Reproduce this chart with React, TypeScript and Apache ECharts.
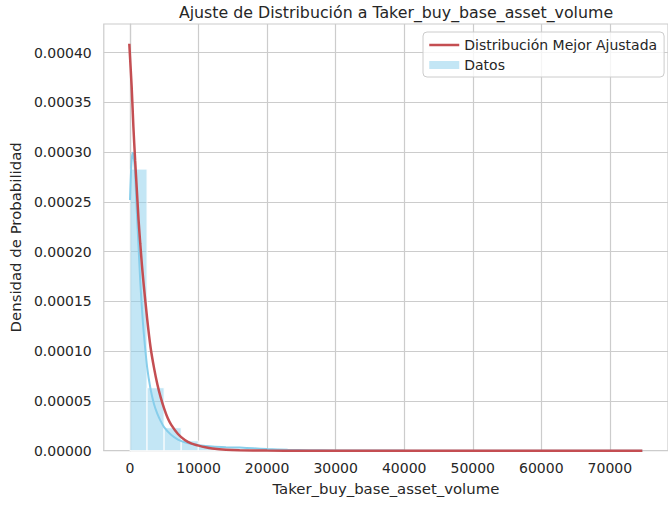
import React, { useEffect, useRef } from "react";
import * as echarts from "echarts";

const TITLE = "Ajuste de Distribución a Taker_buy_base_asset_volume";
const X_LABEL = "Taker_buy_base_asset_volume";
const Y_LABEL = "Densidad de Probabilidad";
const FIT_NAME = "Distribución Mejor Ajustada";
const HIST_NAME = "Datos";

const X_TICKS = [0, 10000, 20000, 30000, 40000, 50000, 60000, 70000];
const Y_TICKS = [0, 0.00005, 0.0001, 0.00015, 0.0002, 0.00025, 0.0003, 0.00035, 0.0004];

// histogram: 30 bins, density values
const BIN_START = 0;
const BIN_WIDTH = 2490;
const HIST_DENSITY = [
  0.000283, 0.0000633, 0.0000231, 0.00001, 0.0000042, 0.0000025, 0.0000018, 0.000001,
  0.0000007, 0.0000004, 0.0000003, 0.0000002, 0.0000002, 0.0000001, 0.0000001, 0.0000001,
  0.00000005, 0.00000005, 0.00000005, 0.00000003, 0.00000003, 0.00000002, 0.00000002,
  0.00000002, 0.00000001, 0.00000001, 0.00000001, 0.00000001, 0.00000001, 0.00000001,
];

// KDE curve (light blue)
const KDE_X = [0, 150, 300, 430, 600, 750, 1000, 1250, 1500, 1750, 2000, 2500, 3000, 3500, 4000, 4500, 5000, 6000, 7000, 8000, 9000, 10000, 12000, 14000, 16000, 18000, 20000, 23000, 26000, 30000, 40000, 50000, 60000, 74740];
const KDE_Y = [0.000252, 0.00028, 0.000296, 0.0002995, 0.000292, 0.000278, 0.00024, 0.000205, 0.00017, 0.000142, 0.000119, 0.000084, 0.000062, 0.000047, 0.000037, 0.0000295, 0.0000235, 0.000016, 0.0000112, 0.0000085, 0.0000068, 0.0000056, 0.0000042, 0.0000035, 0.0000031, 0.0000024, 0.0000016, 0.0000009, 0.0000005, 0.0000003, 0.0000001, 0.00000006, 0.00000003, 0.00000001];

// Best fitted distribution (red)
const FIT_X = [-100, 250, 500, 750, 1000, 1250, 1500, 1750, 2000, 2500, 3000, 3500, 4000, 4500, 5000, 5500, 6000, 7000, 8000, 9000, 10000, 11000, 12000, 14000, 16000, 20000, 25000, 30000, 40000, 50000, 60000, 74740];
const FIT_Y = [0.000409, 0.000365, 0.000325, 0.000292, 0.000262, 0.000232, 0.000208, 0.000186, 0.000167, 0.000133, 0.000104, 0.0000835, 0.0000665, 0.000053, 0.000042, 0.0000328, 0.0000262, 0.0000168, 0.0000108, 0.0000072, 0.0000051, 0.0000034, 0.0000022, 0.0000009, 0.0000004, 0.0000001, 0.00000002, 0, 0, 0, 0, 0];

const TEXT = "#262626";
const GRID = "#cccccc";
const BAR_FILL = "rgba(135,206,235,0.5)";
const KDE_COLOR = "#87ceeb";
const FIT_COLOR = "#c44e52";
const FONT = "DejaVu Sans";

export default function App() {
  const ref = useRef<HTMLDivElement>(null);
  useEffect(() => {
    if (!ref.current) return;
    const chart = echarts.init(ref.current, null, { renderer: "svg" });
    const histData = HIST_DENSITY.map((h, i) => [BIN_START + i * BIN_WIDTH, BIN_START + (i + 1) * BIN_WIDTH, h]);
    const kde = KDE_X.map((x, i) => [x, KDE_Y[i]]);
    const fit = FIT_X.map((x, i) => [x, FIT_Y[i]]);
    chart.setOption({
      animation: false,
      textStyle: { fontFamily: FONT },
      title: {
        text: TITLE,
        left: 396,
        top: 4,
        padding: 0,
        textAlign: "center",
        textStyle: { fontFamily: FONT, fontSize: 15.8, fontWeight: "normal", color: TEXT },
      },
      legend: {
        orient: "vertical",
        left: 423,
        top: 32,
        padding: [6, 7, 5, 5],
        itemGap: 6,
        itemWidth: 30,
        itemHeight: 8,
        backgroundColor: "rgba(255,255,255,0.8)",
        borderColor: GRID,
        borderWidth: 1,
        borderRadius: 4,
        textStyle: { fontFamily: FONT, fontSize: 14, color: TEXT },
        data: [
          { name: FIT_NAME, itemStyle: { opacity: 0 }, lineStyle: { color: FIT_COLOR, width: 2.5 } },
          { name: HIST_NAME, icon: "rect" },
        ],
      },
      grid: {
        left: 101.5,
        top: 24,
        right: -6.3,
        bottom: 54.3,
        show: true,
        borderColor: GRID,
        borderWidth: 1.2,
        backgroundColor: "transparent",
      },
      xAxis: {
        type: "value",
        min: -3820,
        max: 78480,
        name: X_LABEL,
        nameLocation: "middle",
        nameGap: 31,
        nameTextStyle: { fontFamily: FONT, fontSize: 14.9, color: TEXT },
        axisLine: { show: true, lineStyle: { color: GRID, width: 1.2 } },
        axisTick: { show: false, customValues: X_TICKS },
        axisLabel: {
          customValues: X_TICKS,
          margin: 10,
          fontFamily: FONT,
          fontSize: 14,
          color: TEXT,
          formatter: (v: number) => String(Math.round(v)),
        },
        splitLine: { show: true, lineStyle: { color: GRID, width: 1.2 } },
      },
      yAxis: {
        type: "value",
        min: 0,
        max: 0.0004288,
        name: Y_LABEL,
        nameLocation: "middle",
        nameGap: 78,
        nameTextStyle: { fontFamily: FONT, fontSize: 14.9, color: TEXT },
        axisLine: { show: true, lineStyle: { color: GRID, width: 1.2 } },
        axisTick: { show: false, customValues: Y_TICKS },
        axisLabel: {
          customValues: Y_TICKS,
          margin: 12,
          fontFamily: FONT,
          fontSize: 14,
          color: TEXT,
          formatter: (v: number) => v.toFixed(5),
        },
        splitLine: { show: true, lineStyle: { color: GRID, width: 1.2 } },
      },
      series: [
        {
          name: HIST_NAME,
          type: "custom",
          z: 1,
          itemStyle: { color: BAR_FILL },
          encode: { x: [0, 1], y: 2 },
          data: histData,
          renderItem: (params: any, api: any) => {
            const x0 = api.value(0);
            const x1 = api.value(1);
            const h = api.value(2);
            const p0 = api.coord([x0, h]);
            const p1 = api.coord([x1, 0]);
            return {
              type: "rect",
              shape: { x: p0[0], y: p0[1], width: p1[0] - p0[0], height: p1[1] - p0[1] },
              style: { fill: BAR_FILL, stroke: "#ffffff", lineWidth: 1 },
            };
          },
        },
        {
          name: "KDE",
          type: "line",
          z: 2,
          data: kde,
          symbol: "none",
          showSymbol: false,
          smooth: 0.2,
          lineStyle: { color: KDE_COLOR, width: 2 },
          itemStyle: { color: KDE_COLOR },
        },
        {
          name: FIT_NAME,
          type: "line",
          z: 3,
          data: fit,
          symbol: "none",
          showSymbol: false,
          smooth: 0.2,
          lineStyle: { color: FIT_COLOR, width: 2.5 },
          itemStyle: { color: FIT_COLOR },
        },
      ],
    });
    return () => chart.dispose();
  }, []);
  return (
    <div
      ref={ref}
      style={{ position: "fixed", left: 0, top: 0, width: 668, height: 505, background: "#ffffff" }}
    />
  );
}
